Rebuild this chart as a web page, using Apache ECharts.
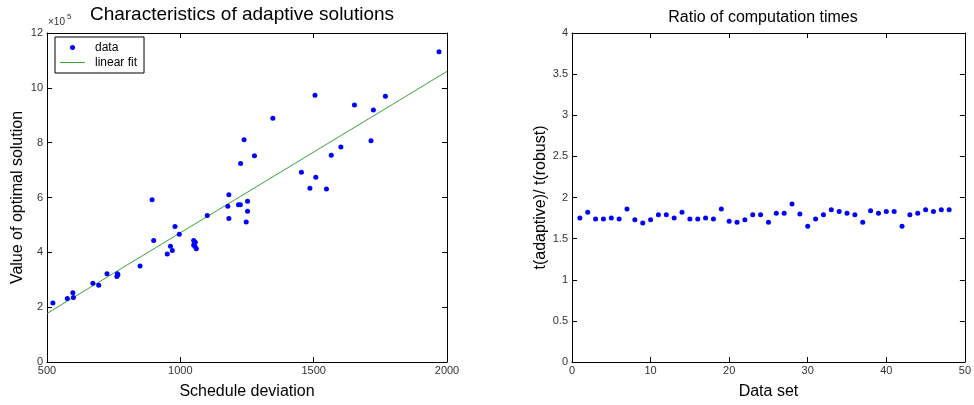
<!DOCTYPE html>
<html>
<head>
<meta charset="utf-8">
<script src="https://cdn.jsdelivr.net/npm/echarts@6/dist/echarts.min.js"></script>
<style>
  html, body { margin: 0; padding: 0; background: #fff; }
  #chart { width: 974px; height: 405px; }
</style>
</head>
<body>
<div id="chart"></div>
<script>
// Left panel: schedule deviation vs. value of the optimal adaptive solution
const scheduleDeviation = [522, 576, 597, 599, 672, 694, 725, 762, 764, 766, 849, 894, 900, 951, 963, 970,
  980, 996, 1050, 1056, 1050, 1055, 1060, 1101, 1178, 1182, 1182, 1218, 1225, 1252, 1252, 1247,
  1239, 1278, 1226, 1970, 1505, 1769, 1653, 1724, 1347, 1715, 1602, 1566, 1454, 1508, 1486, 1548];
const optimalValue = [215000, 232000, 253000, 235000, 287000, 280000, 322000, 312000, 322000, 318000,
  350000, 592000, 443000, 394000, 422000, 407000, 494000, 466000, 443000, 437000, 427000, 421000,
  413000, 534000, 568000, 610000, 523000, 574000, 574000, 586000, 550000, 511000, 811000, 752000,
  724000, 1132000, 973000, 969000, 937000, 919000, 889000, 807000, 784000, 754000, 692000, 674000,
  634000, 631000];
// Linear fit, end points
const fitX = [500, 2000];
const fitY = [177000, 1060000];

// Right panel: ratio of computation times per data set
const dataSetIndex = [1, 2, 3, 4, 5, 6, 7, 8, 9, 10, 11, 12, 13, 14, 15, 16, 17, 18, 19, 20, 21, 22, 23, 24,
  25, 26, 27, 28, 29, 30, 31, 32, 33, 34, 35, 36, 37, 38, 39, 40, 41, 42, 43, 44, 45, 46, 47, 48];
const timeRatio = [1.75, 1.82, 1.74, 1.74, 1.75, 1.74, 1.86, 1.73, 1.69, 1.73, 1.79, 1.79, 1.75, 1.82,
  1.74, 1.74, 1.75, 1.74, 1.86, 1.71, 1.70, 1.73, 1.79, 1.79, 1.70, 1.81, 1.81, 1.92, 1.80, 1.65,
  1.74, 1.79, 1.85, 1.83, 1.81, 1.79, 1.70, 1.84, 1.81, 1.83, 1.83, 1.65, 1.79, 1.81, 1.85, 1.83,
  1.85, 1.85];

// Tick settings
const leftXTicks = { min: 500, max: 2000, interval: 500 };
const leftYTicks = { min: 0, max: 1200000, interval: 200000 };
const rightXTicks = { min: 0, max: 50, interval: 10 };
const rightYTicks = { min: 0, max: 4, interval: 0.5 };

const FONT = '"Liberation Sans", Arial, Helvetica, sans-serif';
const tickLabel = { fontFamily: FONT, fontSize: 11, color: '#333' };
const plain = function (v) { return String(v); };

function axis(gridIndex, ticks, position, extra) {
  return Object.assign({
    type: 'value',
    gridIndex: gridIndex,
    position: position,
    min: ticks.min, max: ticks.max, interval: ticks.interval,
    axisLine: { show: true, onZero: false, lineStyle: { color: '#000', width: 1 } },
    axisTick: { show: true, inside: true, length: 5, lineStyle: { color: '#000', width: 1 } },
    splitLine: { show: false },
    axisLabel: { show: false }
  }, extra || {});
}

function labels(margin, formatter) {
  return Object.assign({ show: true, margin: margin, showMinLabel: true, showMaxLabel: true,
    formatter: formatter }, tickLabel);
}

const nameStyle = { fontFamily: FONT, fontSize: 16, color: '#000' };

const chart = echarts.init(document.getElementById('chart'), null, { renderer: 'canvas' });

chart.setOption({
  animation: false,
  backgroundColor: '#fff',
  grid: [
    { left: 47, right: 527, top: 33, bottom: 39 },
    { left: 572, right: 3, top: 33, bottom: 39 }
  ],
  xAxis: [
    axis(0, leftXTicks, 'bottom', {
      axisLabel: labels(3, plain),
      name: 'Schedule deviation', nameLocation: 'middle', nameGap: 22, nameTextStyle: nameStyle
    }),
    axis(0, leftXTicks, 'top'),
    axis(1, rightXTicks, 'bottom', {
      axisLabel: labels(3, plain),
      name: 'Data set', nameLocation: 'middle', nameGap: 22, nameTextStyle: nameStyle
    }),
    axis(1, rightXTicks, 'top')
  ],
  yAxis: [
    axis(0, leftYTicks, 'left', {
      axisLabel: labels(4, function (v) { return String(Math.round(v / 100000)); }),
      name: 'Value of optimal solution', nameLocation: 'middle', nameGap: 21, nameTextStyle: nameStyle
    }),
    axis(0, leftYTicks, 'right'),
    axis(1, rightYTicks, 'left', {
      axisLabel: labels(4, plain),
      name: 't(adaptive)/ t(robust)', nameLocation: 'middle', nameGap: 21, nameTextStyle: nameStyle
    }),
    axis(1, rightYTicks, 'right')
  ],
  legend: {
    left: 55, top: 37,
    orient: 'vertical',
    data: [
      { name: 'data', icon: 'circle' },
      { name: 'linear fit', icon: 'path://M0,0L25,0L25,1L0,1Z' }
    ],
    itemWidth: 25, itemHeight: 5, itemGap: 0,
    padding: [3, 7, 3, 5],
    borderColor: '#000', borderWidth: 1, borderRadius: 0,
    backgroundColor: '#fff',
    textStyle: { fontFamily: FONT, fontSize: 12, lineHeight: 15, color: '#000', padding: [0, 0, 0, 5] }
  },
  graphic: [
    { type: 'text', x: 242, y: 15, silent: true,
      style: { text: 'Characteristics of adaptive solutions', font: '19px ' + FONT, fill: '#000',
        align: 'center', verticalAlign: 'middle' } },
    { type: 'text', x: 763, y: 18, silent: true,
      style: { text: 'Ratio of computation times', font: '16px ' + FONT, fill: '#000',
        align: 'center', verticalAlign: 'middle' } },
    { type: 'text', x: 48, y: 27, silent: true,
      style: { text: '×10', font: '10px ' + FONT, fill: '#333', align: 'left', verticalAlign: 'bottom' } },
    { type: 'text', x: 67, y: 21, silent: true,
      style: { text: '5', font: '8px ' + FONT, fill: '#333', align: 'left', verticalAlign: 'bottom' } }
  ],
  series: [
    {
      name: 'data', type: 'scatter', xAxisIndex: 0, yAxisIndex: 0,
      symbol: 'circle', symbolSize: 5,
      itemStyle: { color: '#0000ff', opacity: 1 },
      data: scheduleDeviation.map(function (x, i) { return [x, optimalValue[i]]; }),
      z: 3
    },
    {
      name: 'linear fit', type: 'line', xAxisIndex: 0, yAxisIndex: 0,
      symbol: 'none', showSymbol: false,
      lineStyle: { color: '#3aa53a', width: 1 },
      itemStyle: { color: '#3aa53a' },
      data: fitX.map(function (x, i) { return [x, fitY[i]]; }),
      z: 2
    },
    {
      name: 'ratio', type: 'scatter', xAxisIndex: 2, yAxisIndex: 2,
      symbol: 'circle', symbolSize: 5,
      itemStyle: { color: '#0000ff', opacity: 1 },
      data: dataSetIndex.map(function (x, i) { return [x, timeRatio[i]]; })
    }
  ]
});
</script>
</body>
</html>
